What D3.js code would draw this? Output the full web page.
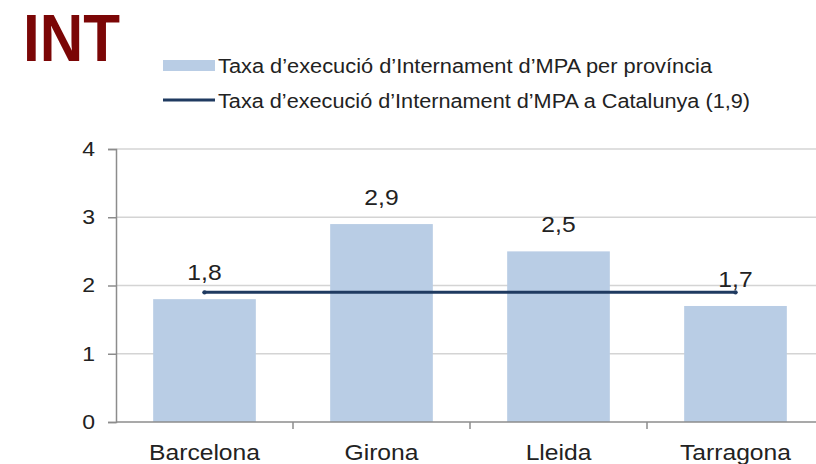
<!DOCTYPE html>
<html><head><meta charset="utf-8">
<script src="https://cdn.jsdelivr.net/npm/d3@7"></script>
<style>body{margin:0;background:#fff;}svg{display:block;font-family:"Liberation Sans",Arial,sans-serif;}</style>
</head><body>
<svg id="c" width="816" height="464"></svg>
<script>
const categories = ["Barcelona","Girona","Lleida","Tarragona"];
const values = [1.8, 2.9, 2.5, 1.7];
const valueLabels = ["1,8","2,9","2,5","1,7"];
const catalunyaValue = 1.9;
const yTicks = [0,1,2,3,4];
const legendLabels = ["Taxa d\u2019execució d\u2019Internament d\u2019MPA per província","Taxa d\u2019execució d\u2019Internament d\u2019MPA a Catalunya (1,9)"];

const svg = d3.select("#c");
const x = d3.scaleBand().domain(categories).range([116, 824]).paddingInner(0.42).paddingOuter(0.21);
const y = d3.scaleLinear().domain([0,4]).range([422, 149]);

function stretch(sel, k){
  sel.each(function(){ const w = this.getComputedTextLength(); d3.select(this).attr("textLength", w*k).attr("lengthAdjust","spacingAndGlyphs"); });
}

// title
svg.append("text").attr("x",23).attr("y",61).attr("font-size",66).attr("font-weight","bold")
  .attr("fill","#7b0606").attr("textLength",97).attr("lengthAdjust","spacingAndGlyphs").text("INT");

// gridlines
svg.append("g").selectAll("line").data(yTicks.filter(d=>d>0)).join("line")
  .attr("x1",116).attr("x2",816).attr("y1",d=>y(d)).attr("y2",d=>y(d))
  .attr("stroke","#d4d4d4").attr("stroke-width",1.5);

// bars
svg.append("g").selectAll("rect").data(values).join("rect")
  .attr("x",(d,i)=>x(categories[i])).attr("width",x.bandwidth())
  .attr("y",d=>y(d)).attr("height",d=>y(0)-y(d)).attr("fill","#b9cde5");

// y axis
const yAxis = svg.append("g").attr("transform","translate(116,0)")
  .call(d3.axisLeft(y).tickValues(yTicks).tickSize(8).tickPadding(13).tickFormat(d3.format("d")));
yAxis.select(".domain").attr("stroke","#8c8c8c").attr("stroke-width",1.5);
yAxis.selectAll(".tick line").attr("stroke","#8c8c8c").attr("stroke-width",1.5);
yAxis.selectAll(".tick text").attr("font-size",20).attr("fill","#222").attr("font-family","Liberation Sans, Arial, sans-serif");
stretch(yAxis.selectAll(".tick text"), 1.15);

// x axis
const xAxis = svg.append("g").attr("transform","translate(0,422)")
  .call(d3.axisBottom(x).tickSize(0).tickPadding(22));
xAxis.select(".domain").remove();
svg.append("line").attr("x1",116).attr("x2",816).attr("y1",422).attr("y2",422).attr("stroke","#8c8c8c").attr("stroke-width",1.5);
const step = x.step();
svg.append("g").selectAll("line").data(categories.slice(1)).join("line")
  .attr("x1",d=>x(d)-x.paddingInner()*step/2).attr("x2",d=>x(d)-x.paddingInner()*step/2)
  .attr("y1",422).attr("y2",429).attr("stroke","#8c8c8c").attr("stroke-width",1.5);
xAxis.selectAll(".tick text").attr("font-size",22).attr("fill","#222").attr("font-family","Liberation Sans, Arial, sans-serif");
stretch(xAxis.selectAll(".tick text"), 1.12);

// Catalunya line
const lx1 = x(categories[0])+x.bandwidth()/2, lx2 = x(categories[categories.length-1])+x.bandwidth()/2;
svg.append("line").attr("x1",lx1).attr("x2",lx2).attr("y1",y(catalunyaValue)).attr("y2",y(catalunyaValue))
  .attr("stroke","#1f3a60").attr("stroke-width",3);
svg.selectAll(".endpt").data([lx1,lx2]).join("circle").attr("cx",d=>d).attr("cy",y(catalunyaValue)).attr("r",2.2).attr("fill","#1f3a60");

// value labels
const vl = svg.append("g").selectAll("text").data(values).join("text")
  .attr("x",(d,i)=>x(categories[i])+x.bandwidth()/2).attr("y",d=>y(d)-19)
  .attr("text-anchor","middle").attr("font-size",22).attr("fill","#222").text((d,i)=>valueLabels[i]);
stretch(vl, 1.12);

// legend
svg.append("rect").attr("x",163).attr("y",60).attr("width",52).attr("height",11).attr("fill","#b9cde5");
svg.append("line").attr("x1",163).attr("x2",215).attr("y1",100).attr("y2",100).attr("stroke","#1f3a60").attr("stroke-width",3);
svg.append("text").attr("x",218).attr("y",73).attr("font-size",20).attr("fill","#222")
  .attr("textLength",494).attr("lengthAdjust","spacingAndGlyphs").text(legendLabels[0]);
svg.append("text").attr("x",218).attr("y",108).attr("font-size",20).attr("fill","#222")
  .attr("textLength",532).attr("lengthAdjust","spacingAndGlyphs").text(legendLabels[1]);
</script>
</body></html>
